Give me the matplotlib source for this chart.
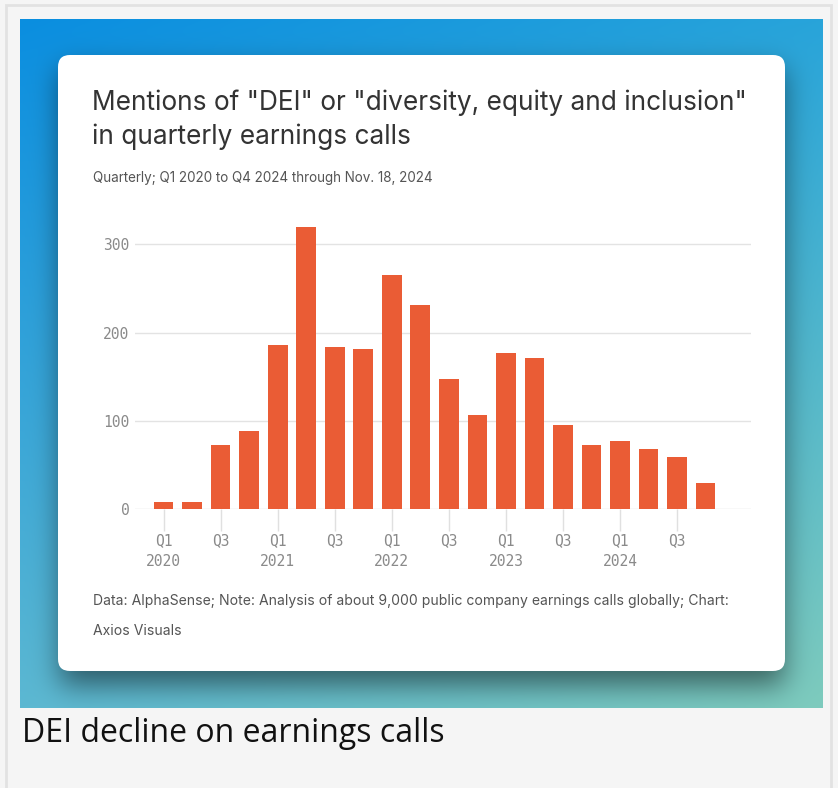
import numpy as np
import matplotlib
matplotlib.use("Agg")
import matplotlib.pyplot as plt
from matplotlib.patches import FancyBboxPatch, Rectangle

# --- Data ---
quarters = ["Q1", "Q2", "Q3", "Q4"] * 5
years = [2020, 2021, 2022, 2023, 2024]
mentions = [8, 8, 72, 88, 186, 320, 184, 181, 265, 231,
            147, 107, 177, 171, 95, 73, 77, 68, 59, 30]
y_ticks = [0, 100, 200, 300]
x_tick_idx = [0, 2, 4, 6, 8, 10, 12, 14, 16, 18]
x_tick_labels = ["Q1\n2020", "Q3\n ", "Q1\n2021", "Q3\n ", "Q1\n2022",
                 "Q3\n ", "Q1\n2023", "Q3\n ", "Q1\n2024", "Q3\n "]

title1 = 'Mentions of "DEI" or "diversity, equity and inclusion"'
title2 = "in quarterly earnings calls"
subtitle = "Quarterly; Q1 2020 to Q4 2024 through Nov. 18, 2024"
footer1 = "Data: AlphaSense; Note: Analysis of about 9,000 public company earnings calls globally; Chart:"
footer2 = "Axios Visuals"
caption = "DEI decline on earnings calls"

W, H = 838, 788
BAR = "#ea5c35"
FONT = "Inter"

fig = plt.figure(figsize=(W / 100, H / 100), dpi=100)
fig.patch.set_facecolor("#f5f5f5")

# --- background layer in pixel coords ---
bg = fig.add_axes([0, 0, 1, 1], zorder=0)
bg.set_xlim(0, W)
bg.set_ylim(H, 0)
bg.axis("off")

# outer frame
bg.add_patch(Rectangle((6, 5), W - 13, H - 2, facecolor="#f5f5f5",
                       edgecolor="#e2e2e2", linewidth=2))

# gradient panel with card shadow
gx0, gx1, gy0, gy1 = 20, 822, 19, 708
nx, ny = gx1 - gx0, gy1 - gy0
tl = np.array([10, 142, 224]) / 255
tr = np.array([40, 164, 218]) / 255
bl = np.array([92, 184, 210]) / 255
br = np.array([126, 203, 189]) / 255
u = np.linspace(0, 1, nx)[None, :, None]
v = np.linspace(0, 1, ny)[:, None, None]
grad = (tl * (1 - u) * (1 - v) + tr * u * (1 - v)
        + bl * (1 - u) * v + br * u * v)

# soft shadow below the card
cx0, cx1, cy0, cy1 = 58, 785, 55, 671
mask = np.zeros((ny, nx))
mask[cy0 - gy0 + 14:cy1 - gy0 + 14, cx0 - gx0 + 2:cx1 - gx0 - 2] = 1.0
sig = 14
k = np.exp(-0.5 * (np.arange(-3 * sig, 3 * sig + 1) / sig) ** 2)
k /= k.sum()
mask = np.apply_along_axis(lambda r: np.convolve(r, k, mode="same"), 1, mask)
mask = np.apply_along_axis(lambda c: np.convolve(c, k, mode="same"), 0, mask)
grad = grad * (1 - 0.5 * mask[:, :, None])
bg.imshow(grad, extent=(gx0, gx1, gy1, gy0), aspect="auto", zorder=1,
          interpolation="bilinear")

# white card
bg.add_patch(FancyBboxPatch((cx0 + 12, cy0 + 12), cx1 - cx0 - 24, cy1 - cy0 - 24,
                            boxstyle="round,pad=12", facecolor="white",
                            edgecolor="none", zorder=2))

# texts
bg.text(92, 110, title1, fontsize=18.9, family=FONT, color="#333333",
        va="baseline", ha="left", zorder=3)
bg.text(92, 144, title2, fontsize=18.9, family=FONT, color="#333333",
        va="baseline", ha="left", zorder=3)
bg.text(93, 182, subtitle, fontsize=9.7, family=FONT, color="#555555",
        va="baseline", ha="left", zorder=3)
bg.text(93, 605, footer1, fontsize=10.1, family=FONT, color="#555555",
        va="baseline", ha="left", zorder=3)
bg.text(93, 635, footer2, fontsize=10.1, family=FONT, color="#555555",
        va="baseline", ha="left", zorder=3)
bg.text(22, 734, caption, fontsize=23, family="Open Sans", color="#111111",
        va="center", ha="left", zorder=3)

# --- chart axes placed in pixel coords ---
ymax = 330
px_per = 88.2 / 100
ax_left, ax_right = 135, 751
ax_bottom = 509
ax_top = ax_bottom - ymax * px_per
ax = fig.add_axes([ax_left / W, 1 - ax_bottom / H,
                   (ax_right - ax_left) / W, (ax_bottom - ax_top) / H], zorder=2)
ax.patch.set_alpha(0)

x = np.arange(len(mentions))
ax.bar(x, mentions, width=0.69, color=BAR, zorder=3)
ax.set_xlim(-1.0, 20.59)
ax.set_ylim(0, ymax)

for s in ax.spines.values():
    s.set_visible(False)
for t in y_ticks:
    ax.axhline(t, color="#e3e3e3" if t else "#dcdcdc", linewidth=1, zorder=1)

ax.set_yticks(y_ticks)
ax.set_yticklabels([str(t) for t in y_ticks], family="DejaVu Sans Mono",
                   fontsize=10.5, color="#8a8a8a")
ax.tick_params(axis="y", length=0, pad=4)

ax.set_xticks(x_tick_idx)
ax.set_xticklabels(x_tick_labels, family="DejaVu Sans Mono", fontsize=10.5,
                   color="#8a8a8a", linespacing=1.55)
ax.tick_params(axis="x", length=16, width=1, color="#e0e0e0", pad=1)

fig.savefig("out.png", dpi=100, facecolor=fig.get_facecolor())
